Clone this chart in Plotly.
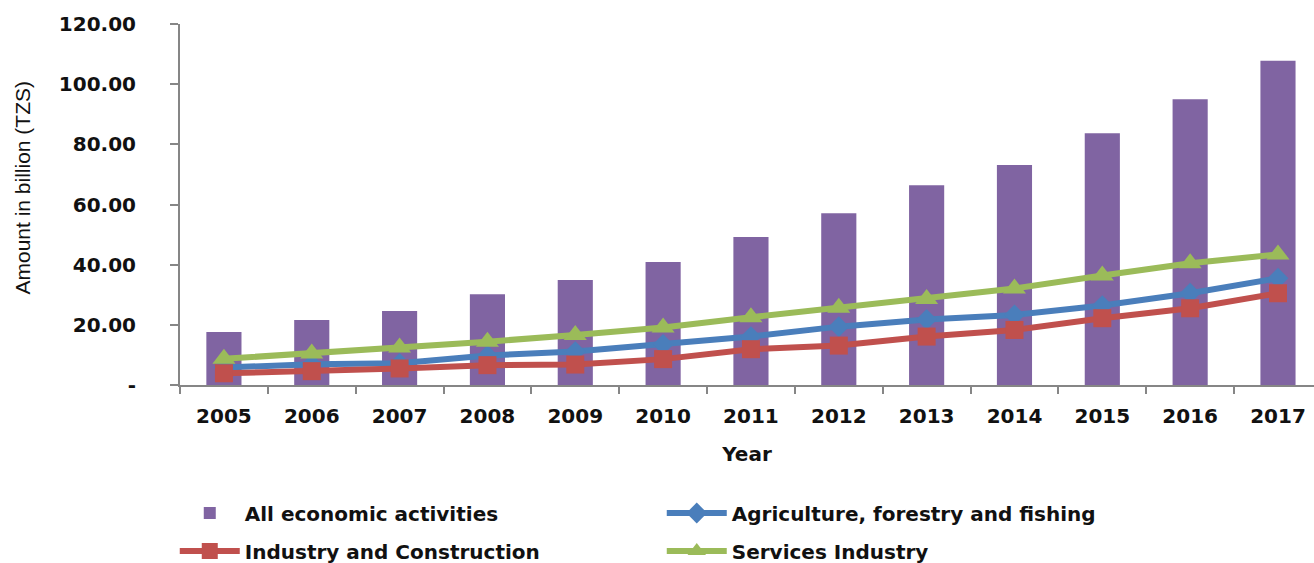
import plotly.graph_objects as go

years = ["2005", "2006", "2007", "2008", "2009", "2010", "2011",
         "2012", "2013", "2014", "2015", "2016", "2017"]
all_activities = [17.6, 21.6, 24.6, 30.2, 34.9, 40.9, 49.2,
                  57.1, 66.4, 73.1, 83.7, 95.0, 107.8]
agriculture = [5.8, 6.9, 7.2, 9.8, 11.1, 13.5, 16.1,
               19.4, 21.8, 23.3, 26.4, 30.5, 35.5]
industry = [3.9, 4.6, 5.5, 6.6, 6.8, 8.6, 11.9,
            13.1, 16.1, 18.3, 22.2, 25.5, 30.5]
services = [8.7, 10.5, 12.5, 14.4, 16.6, 19.1, 22.5,
            25.7, 28.6, 32.1, 36.4, 40.5, 43.4]

y_tickvals = [0, 20, 40, 60, 80, 100, 120]
y_ticktext = ["-", "20.00", "40.00", "60.00", "80.00", "100.00", "120.00"]

BOLD = "DejaVu Sans"
axis_grey = "#868686"
text_col = "#111111"

fig = go.Figure()
fig.add_trace(go.Bar(
    x=years, y=all_activities, name="All economic activities",
    marker=dict(color="#8064A2", line=dict(width=0)), width=0.4,
    legend="legend",
))
fig.add_trace(go.Scatter(
    x=years, y=agriculture, name="Agriculture, forestry and fishing",
    mode="lines+markers", line=dict(color="#4A7EBB", width=6),
    marker=dict(symbol="diamond", size=16, color="#4A7EBB"),
    legend="legend",
))
fig.add_trace(go.Scatter(
    x=years, y=industry, name="Industry and Construction",
    mode="lines+markers", line=dict(color="#C0504D", width=6),
    marker=dict(symbol="square", size=18, color="#C0504D"),
    legend="legend2",
))
fig.add_trace(go.Scatter(
    x=years, y=services, name="Services Industry",
    mode="lines+markers", line=dict(color="#9BBB59", width=6),
    marker=dict(symbol="triangle-up", size=20, color="#9BBB59"),
    legend="legend2",
))

legend_style = dict(
    orientation="h", xref="container", yref="container",
    x=0.133, xanchor="left", yanchor="middle",
    entrywidth=412, entrywidthmode="pixels", itemwidth=60,
    font=dict(family=BOLD, size=20, weight="bold", color=text_col),
    bgcolor="rgba(0,0,0,0)",
)

fig.update_layout(
    width=1314, height=563,
    margin=dict(l=180, r=0, t=24, b=178),
    paper_bgcolor="white", plot_bgcolor="white",
    font=dict(family=BOLD, color=text_col),
    showlegend=True,
    legend=dict(legend_style, y=1 - 513 / 563),
    legend2=dict(legend_style, y=1 - 551 / 563),
    annotations=[dict(
        text="Amount in billion (TZS)", textangle=-90,
        xref="paper", yref="paper", x=-0.139, y=0.548,
        xanchor="center", yanchor="middle", showarrow=False,
        font=dict(family="Liberation Sans", size=21, color=text_col),
    )],
)
fig.update_xaxes(
    type="category", range=[-0.5, 12.41],
    showline=True, linecolor=axis_grey, linewidth=2,
    ticks="outside", ticklen=7, tickcolor=axis_grey, tickwidth=2,
    tickson="boundaries", ticklabelstandoff=12,
    tickfont=dict(family=BOLD, size=20, weight="bold"),
    showgrid=False, zeroline=False,
    title=dict(text="Year", font=dict(family=BOLD, size=20, weight="bold"),
               standoff=20),
)
fig.update_yaxes(
    range=[0, 120], tickvals=y_tickvals, ticktext=y_ticktext,
    showline=True, linecolor=axis_grey, linewidth=2,
    ticks="outside", ticklen=8, tickcolor=axis_grey, tickwidth=2,
    ticklabelstandoff=30,
    tickfont=dict(family=BOLD, size=20, weight="bold"),
    showgrid=False, zeroline=False,
)

fig.write_html("out.html")
